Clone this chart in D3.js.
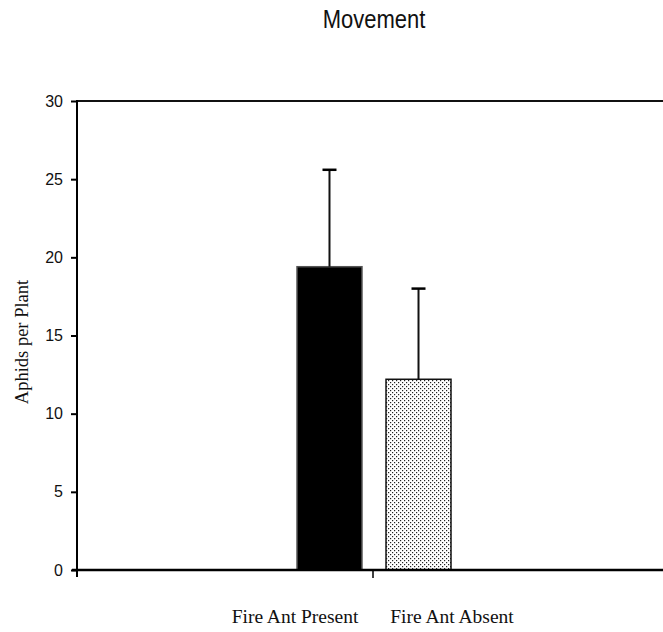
<!DOCTYPE html>
<html>
<head>
<meta charset="utf-8">
<script src="https://cdn.jsdelivr.net/npm/d3@7"></script>
<style>
  html, body { margin: 0; padding: 0; background: #fff; }
  svg { display: block; }
</style>
</head>
<body>
<script>
// Mean aphids per plant under each treatment, with upper error (mean + SE)
const categories = ["Fire Ant Present", "Fire Ant Absent"];
const means = [19.4, 12.2];
const upperErrors = [25.6, 18.0];
const yTicks = [0, 5, 10, 15, 20, 25, 30];
const title = "Movement";
const yLabel = "Aphids per Plant";

const W = 663, H = 632;
const plotLeft = 77, plotRight = 669, plotTop = 101, plotBottom = 570;

const svg = d3.select("body").append("svg")
  .attr("width", W).attr("height", H);

// dotted fill for the second bar
const defs = svg.append("defs");
const pat = defs.append("pattern")
  .attr("id", "dots").attr("patternUnits", "userSpaceOnUse")
  .attr("width", 4).attr("height", 4);
pat.append("rect").attr("width", 4).attr("height", 4).attr("fill", "#fff");
pat.append("rect").attr("x", 0).attr("y", 0).attr("width", 1.2).attr("height", 1.2).attr("fill", "#222");
pat.append("rect").attr("x", 2).attr("y", 2).attr("width", 1.2).attr("height", 1.2).attr("fill", "#222");

const y = d3.scaleLinear().domain([0, 30]).range([plotBottom, plotTop]);
const xGroup = d3.scaleLinear().domain([0, 1]).range([plotLeft, plotRight]);
const mid = xGroup(0.5);
const x = d3.scaleBand().domain(categories)
  .range([mid - 76, mid + 78]).paddingInner(0.27).paddingOuter(0);

// title (slightly condensed sans)
svg.append("text")
  .attr("transform", "translate(374,28) scale(0.88,1)")
  .attr("text-anchor", "middle")
  .attr("font-family", "Liberation Sans, Arial, sans-serif")
  .attr("font-size", 25)
  .attr("fill", "#111")
  .text(title);

// top frame line
svg.append("line")
  .attr("x1", plotLeft).attr("x2", W).attr("y1", y(30)).attr("y2", y(30))
  .attr("stroke", "#111").attr("stroke-width", 2);

// y axis
const yAxis = d3.axisLeft(y).tickValues(yTicks).tickSize(6).tickPadding(8);
const gy = svg.append("g").attr("transform", `translate(${plotLeft},0)`).call(yAxis);
gy.select(".domain").remove();
gy.selectAll(".tick line").attr("stroke", "#000").attr("stroke-width", 2);
gy.selectAll(".tick text")
  .attr("font-family", "Liberation Sans, Arial, sans-serif")
  .attr("font-size", 16).attr("fill", "#111");
svg.append("line")
  .attr("x1", plotLeft).attr("x2", plotLeft).attr("y1", y(30) - 1).attr("y2", plotBottom + 7)
  .attr("stroke", "#000").attr("stroke-width", 2);

// bars
const fills = ["#000", "url(#dots)"];
svg.selectAll("rect.bar").data(means).enter().append("rect")
  .attr("class", "bar")
  .attr("x", (d, i) => x(categories[i]))
  .attr("width", x.bandwidth())
  .attr("y", d => y(d))
  .attr("height", d => y(0) - y(d))
  .attr("fill", (d, i) => fills[i])
  .attr("stroke", (d, i) => i === 0 ? "#555" : "#111")
  .attr("stroke-width", 1.5);

// upper error bars
const eb = svg.selectAll("g.err").data(upperErrors).enter().append("g").attr("class", "err");
eb.append("line")
  .attr("x1", (d, i) => x(categories[i]) + x.bandwidth() / 2)
  .attr("x2", (d, i) => x(categories[i]) + x.bandwidth() / 2)
  .attr("y1", (d, i) => y(means[i]))
  .attr("y2", d => y(d))
  .attr("stroke", "#111").attr("stroke-width", 2);
eb.append("line")
  .attr("x1", (d, i) => x(categories[i]) + x.bandwidth() / 2 - 7)
  .attr("x2", (d, i) => x(categories[i]) + x.bandwidth() / 2 + 7)
  .attr("y1", d => y(d)).attr("y2", d => y(d))
  .attr("stroke", "#000").attr("stroke-width", 2.5);

// x axis
svg.append("line")
  .attr("x1", plotLeft - 5).attr("x2", W).attr("y1", plotBottom).attr("y2", plotBottom)
  .attr("stroke", "#000").attr("stroke-width", 2.5);
svg.append("line")
  .attr("x1", mid).attr("x2", mid).attr("y1", plotBottom).attr("y2", plotBottom + 8)
  .attr("stroke", "#000").attr("stroke-width", 1.5);

// category labels
const labelOffsets = [-78, 79];
svg.selectAll("text.cat").data(categories).enter().append("text")
  .attr("class", "cat")
  .attr("x", (d, i) => mid + labelOffsets[i])
  .attr("y", 623)
  .attr("text-anchor", "middle")
  .attr("font-family", "Liberation Serif, Times New Roman, serif")
  .attr("font-size", 19.5)
  .attr("fill", "#111")
  .text(d => d);

// y axis title
svg.append("text")
  .attr("transform", `translate(28,342) rotate(-90)`)
  .attr("text-anchor", "middle")
  .attr("font-family", "Liberation Serif, Times New Roman, serif")
  .attr("font-size", 18.5)
  .attr("fill", "#111")
  .text(yLabel);
</script>
</body>
</html>
